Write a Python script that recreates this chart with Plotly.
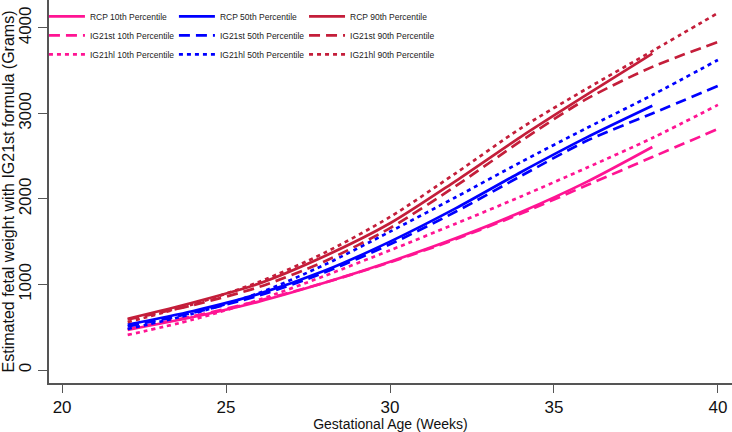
import plotly.graph_objects as go

weeks = [22, 24, 26, 28, 30, 32, 34, 36, 38, 40]
weeks_rcp = [22, 24, 26, 28, 30, 32, 34, 36, 38]

rcp_10 = [470, 620, 800, 1020, 1267, 1540, 1848, 2200, 2608]
rcp_50 = [530, 690, 890, 1160, 1501, 1890, 2316, 2720, 3090]
rcp_90 = [600, 790, 1010, 1330, 1716, 2210, 2730, 3220, 3700]

ig21st_10 = [480, 630, 810, 1020, 1260, 1530, 1830, 2160, 2490, 2818]
ig21st_50 = [510, 670, 870, 1140, 1470, 1850, 2270, 2680, 3000, 3322]
ig21st_90 = [590, 760, 970, 1270, 1660, 2150, 2680, 3170, 3545, 3836]

ig21hl_10 = [410, 590, 820, 1100, 1400, 1710, 2030, 2365, 2713, 3100]
ig21hl_50 = [480, 660, 900, 1230, 1618, 2020, 2433, 2830, 3216, 3626]
ig21hl_90 = [560, 770, 1030, 1370, 1790, 2300, 2830, 3290, 3730, 4175]

x_ticks = [20, 25, 30, 35, 40]
y_ticks = [0, 1000, 2000, 3000, 4000]

PINK = "#FF1493"
BLUE = "#0000FF"
RED = "#C41E3A"

DASH = "11px,6px"
DOT = "4px,4px"

series = [
    ("RCP 10th Percentile", weeks_rcp, rcp_10, PINK, "solid", "legend"),
    ("IG21st 10th Percentile", weeks, ig21st_10, PINK, DASH, "legend"),
    ("IG21hl 10th Percentile", weeks, ig21hl_10, PINK, DOT, "legend"),
    ("RCP 50th Percentile", weeks_rcp, rcp_50, BLUE, "solid", "legend2"),
    ("IG21st 50th Percentile", weeks, ig21st_50, BLUE, DASH, "legend2"),
    ("IG21hl 50th Percentile", weeks, ig21hl_50, BLUE, DOT, "legend2"),
    ("RCP 90th Percentile", weeks_rcp, rcp_90, RED, "solid", "legend3"),
    ("IG21st 90th Percentile", weeks, ig21st_90, RED, DASH, "legend3"),
    ("IG21hl 90th Percentile", weeks, ig21hl_90, RED, DOT, "legend3"),
]

fig = go.Figure()
for name, xs, ys, col, dash, lg in series:
    fig.add_trace(go.Scatter(
        x=xs, y=ys, mode="lines", name=name, legend=lg,
        line=dict(color=col, width=2.7, dash=dash, shape="spline", smoothing=0.8),
    ))

legend_common = dict(
    font=dict(family="Liberation Sans, Arial", size=8.5, color="#222"),
    bgcolor="rgba(0,0,0,0)", yanchor="top", xanchor="left", y=0.995,
    tracegroupgap=0, itemwidth=36,
)

fig.update_layout(
    width=732, height=432,
    margin=dict(l=49, r=0, t=0, b=49),
    paper_bgcolor="white", plot_bgcolor="white",
    font=dict(family="Liberation Sans, Arial", color="#111"),
    showlegend=True,
    legend=dict(x=-0.0074, **legend_common),
    legend2=dict(x=0.1829, **legend_common),
    legend3=dict(x=0.3734, **legend_common),
    xaxis=dict(
        range=[19.6, 40.43], tickvals=x_ticks, ticks="outside", ticklen=8,
        tickcolor="#555", tickwidth=1.2, showline=True, linecolor="#555", linewidth=1.5,
        showgrid=False, zeroline=False, tickfont=dict(size=17, color="#111"),
        title=dict(text="Gestational Age (Weeks)", font=dict(size=14, color="#111"), standoff=3),
        automargin=False,
    ),
    yaxis=dict(
        range=[-152, 4327], tickvals=y_ticks, ticks="outside", ticklen=9,
        tickcolor="#555", tickwidth=1.2, showline=True, linecolor="#555", linewidth=1.5,
        showgrid=False, zeroline=False, tickangle=-90, tickfont=dict(size=17, color="#111"),
        title=dict(text="Estimated fetal weight with IG21st formula (Grams)", font=dict(size=16, color="#111"), standoff=4),
        automargin=False,
    ),
)

fig.write_html(
    "out.html",
    config={"displayModeBar": False},
    post_script="document.body.style.margin='0';document.body.style.padding='0';",
)
